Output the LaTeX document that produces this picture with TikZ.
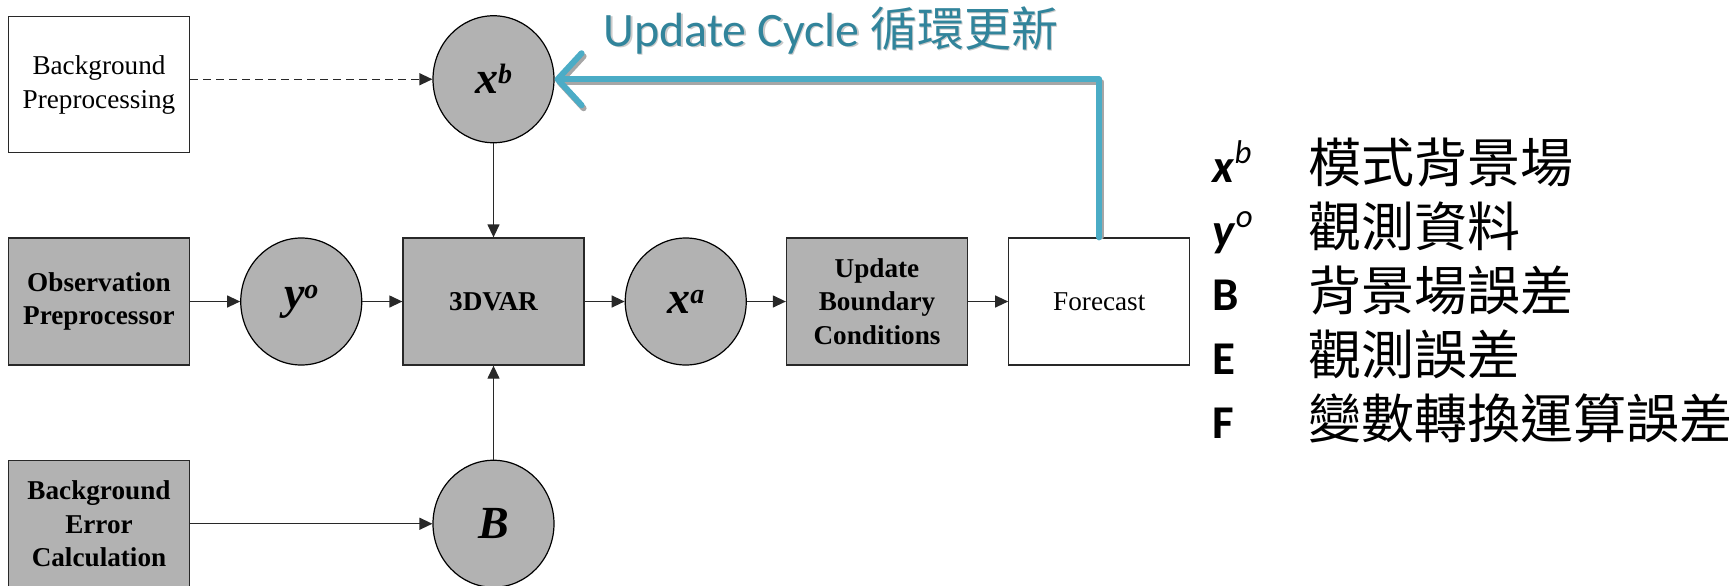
\documentclass[tikz,border=0pt]{standalone}
\usepackage{fontspec}
\setmainfont{Liberation Serif}
\newfontfamily\calibri{Carlito}
\newfontfamily\cjk{Noto Sans CJK TC}
\usetikzlibrary{positioning,arrows.meta,shapes.geometric}

\definecolor{boxgray}{RGB}{178,178,178}
\definecolor{edgegray}{RGB}{40,40,40}
\definecolor{cycleblue}{RGB}{75,172,198}
\definecolor{cycleteal}{RGB}{49,132,155}
\definecolor{shadowgray}{RGB}{166,166,166}

% superscripted variable inside the circles
\newcommand{\varsup}[2]{#1\raisebox{5pt}{\fontsize{14}{14}\selectfont #2}}

\tikzset{
  plainbox/.style={draw=edgegray, line width=0.65pt, fill=white,
    minimum width=90.5pt, minimum height=63.5pt, inner sep=0pt,
    align=center, font=\fontsize{13.6}{16.75}\selectfont},
  graybox/.style={plainbox, fill=boxgray,
    font=\fontsize{13.6}{16.75}\selectfont\bfseries},
  varnode/.style={ellipse, draw=black, line width=0.6pt, fill=boxgray,
    minimum width=60.5pt, minimum height=63.5pt, inner sep=0pt,
    font=\fontsize{23}{23}\selectfont\bfseries\itshape},
  flow/.style={draw=edgegray, line width=0.65pt,
    -{Triangle[length=6.5pt,width=6pt]}},
  cycleline/.style={draw=cycleblue, line width=3pt, line cap=round, line join=round,
    -{Straight Barb[length=12pt,width=26pt,line cap=round,line join=round]}},
  cycleshadow/.style={cycleline, draw=shadowgray},
  legsym/.style={anchor=base west, inner sep=0pt,
    font=\calibri\fontsize{23.5}{23.5}\selectfont\bfseries},
  legtxt/.style={anchor=base west, inner sep=0pt,
    font=\cjk\fontsize{26.5}{26.5}\selectfont}
}

\begin{document}
\begin{tikzpicture}
  \useasboundingbox (0,0) rectangle (865.5pt,-292.5pt);

  % main row
  \node[graybox] (var) at (246.75pt,-150.75pt) {3DVAR};
  \node[varnode, left=20pt of var] (yo) {\varsup{y}{o}};
  \node[graybox, left=25pt of yo] (obs) {Observation\\Preprocessor};
  \node[varnode, right=20pt of var] (xa) {\varsup{x}{a}};
  \node[graybox, right=19.5pt of xa] (ubc) {Update\\Boundary\\Conditions};
  \node[plainbox, right=20pt of ubc] (fc) {Forecast};

  % background state and background error
  \node[varnode, above=47pt of var] (xb) {\varsup{x}{b}};
  \node[varnode, below=47pt of var] (B) {B};
  \node[plainbox, minimum height=68pt, yshift=-2.75pt] (bp) at (obs |- xb) {Background\\Preprocessing};
  \node[graybox] (bec) at (obs |- B) {Background\\Error\\Calculation};

  \draw[flow, dash pattern=on 4pt off 2.5pt] (bp.east |- xb.west) -- (xb.west);
  \draw[flow] (obs) -- (yo);
  \draw[flow] (yo) -- (var);
  \draw[flow] (var) -- (xa);
  \draw[flow] (xa) -- (ubc);
  \draw[flow] (ubc) -- (fc);
  \draw[flow] (xb) -- (var);
  \draw[flow] (B) -- (var);
  \draw[flow] (bec) -- (B);

  % update cycle back to the background
  \draw[cycleshadow, shorten <=2pt, transform canvas={xshift=1pt,yshift=-1.5pt}] (fc.north) |- (xb.east);
  \draw[cycleline] (fc.north) |- (xb.east);
  \node[anchor=base west, inner sep=0pt, text=shadowgray!60, font=\calibri\fontsize{24}{24}\selectfont]
    (cycleshade) at (302.3pt,-23.8pt) {Update Cycle {\cjk\fontsize{23.5}{23.5}\selectfont 循環更新}};
  \node[anchor=base west, inner sep=0pt, text=cycleteal, font=\calibri\fontsize{24}{24}\selectfont]
    (cycletitle) at (301.5pt,-23pt) {Update Cycle {\cjk\fontsize{23.5}{23.5}\selectfont 循環更新}};

  % legend
  \foreach \sym/\txt/\yy [count=\i] in {
      {\textit{x}\textsuperscript{\mdseries\textit{b}}}/模式背景場/-91,
      {\textit{y}\textsuperscript{\mdseries\textit{o}}}/觀測資料/-123,
      B/背景場誤差/-155,
      E/觀測誤差/-187,
      F/變數轉換運算誤差/-219} {
    \node[legsym] (sym\i) at (606pt,\yy pt) {\sym};
    \node[legtxt] (txt\i) at (654pt,\yy pt) {\txt};
  }
\end{tikzpicture}
\end{document}
